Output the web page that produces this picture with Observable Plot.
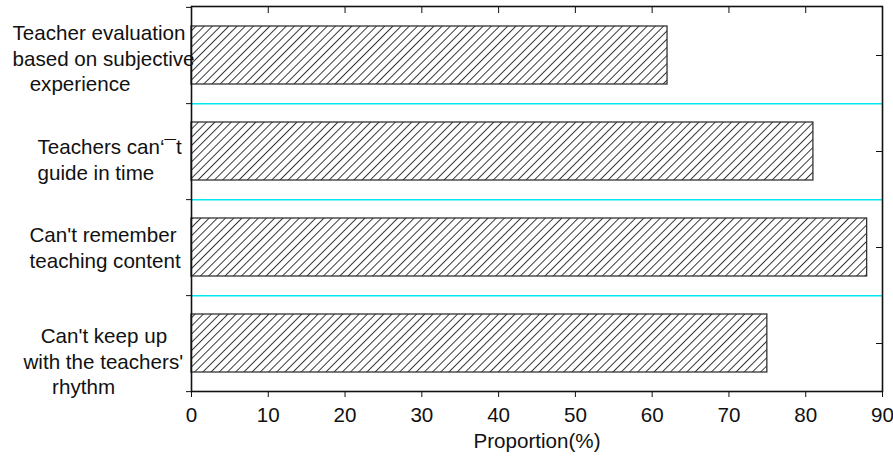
<!DOCTYPE html>
<html>
<head>
<meta charset="utf-8">
<script src="https://cdn.jsdelivr.net/npm/d3@7"></script>
<script src="https://cdn.jsdelivr.net/npm/@observablehq/plot@0.6"></script>
<style>
  html, body { margin: 0; padding: 0; background: #fff; }
  svg text { white-space: pre; }
</style>
</head>
<body>
<div id="chart"></div>
<script>
// ---- data ----
const categories = [
  "Teacher evaluation based on subjective experience",
  "Teachers can‘¯t guide in time",
  "Can't remember teaching content",
  "Can't keep up with the teachers' rhythm"
];
const values = [62, 81, 88, 75];
const categoryLabels = [
  "Teacher evaluation\nbased on subjective\n   experience",
  "Teachers can‘¯t\nguide in time",
  "Can't remember\nteaching content",
  "   Can't keep up\nwith the teachers'\n     rhythm"
];
const xTicks = [0, 10, 20, 30, 40, 50, 60, 70, 80, 90];
const xLabel = "Proportion(%)";

// ---- layout / style ----
const W = 893, H = 463;
const M = {top: 6, right: 11, bottom: 72, left: 191};
const labelLeft = [12, 37, 29, 23];
const labelNudge = [2, 7, -1, 17];
const step = (H - M.top - M.bottom) / categories.length;
const font = "'Liberation Sans', Arial, sans-serif";
const sepColor = "#00e8f2";

const rows = categories.map((c, i) => ({cat: c, value: values[i]}));

const labelMarks = categories.map((c, i) =>
  Plot.text([c], {
    y: d => d,
    text: () => categoryLabels[i],
    frameAnchor: "left",
    textAnchor: "start",
    dx: labelLeft[i] - M.left,
    dy: labelNudge[i],
    lineHeight: 1.25,
    fill: "#111"
  })
);

const svg = Plot.plot({
  width: W,
  height: H,
  marginTop: M.top,
  marginRight: M.right,
  marginBottom: M.bottom,
  marginLeft: M.left,
  style: {fontSize: "20.6px", fontFamily: font, color: "#111", background: "#fff"},
  x: {domain: [0, 90], ticks: xTicks},
  y: {domain: categories, paddingInner: 0.4, paddingOuter: 0.2},
  marks: [
    // separators between categories
    Plot.ruleY(categories.slice(0, -1), {y: d => d, dy: step / 2, stroke: sepColor, strokeWidth: 1.5}),
    // hatched bars
    Plot.barX(rows, {y: "cat", x: "value", fill: "url(#hatch)", stroke: "#333", strokeWidth: 1.3}),
    // bottom axis
    Plot.axisX({anchor: "bottom", ticks: xTicks, tickSize: 6, tickPadding: 10, label: null, stroke: "#111", fill: "#111"}),
    // top axis inward ticks
    Plot.axisX({anchor: "top", ticks: xTicks, tickSize: -6, tickFormat: () => "", label: null, stroke: "#111"}),
    // right axis inward ticks at category centers
    Plot.axisY({anchor: "right", ticks: categories, tickSize: -7, tickFormat: () => "", label: null, stroke: "#111"}),
    // left axis short outward ticks at band boundaries
    Plot.axisY({anchor: "left", ticks: categories, tickSize: 5, tickFormat: () => "", label: null, dy: step / 2, stroke: "#111"}),
    Plot.axisY({anchor: "left", ticks: categories.slice(0, 1), tickSize: 5, tickFormat: () => "", label: null, dy: -step / 2, stroke: "#111"}),
    ...labelMarks,
    Plot.text([xLabel], {frameAnchor: "bottom", text: d => d, dy: 56, fill: "#111"}),
    Plot.frame({stroke: "#111", strokeWidth: 1.6})
  ]
});

// hatch pattern definition
const defs = d3.select(svg).insert("defs", ":first-child");
const pat = defs.append("pattern")
  .attr("id", "hatch")
  .attr("patternUnits", "userSpaceOnUse")
  .attr("width", 5.8)
  .attr("height", 5.8)
  .attr("patternTransform", "rotate(45)");
pat.append("rect").attr("width", 5.8).attr("height", 5.8).attr("fill", "#fff");
pat.append("line")
  .attr("x1", 0.5).attr("y1", 0).attr("x2", 0.5).attr("y2", 5.8)
  .attr("stroke", "#222").attr("stroke-width", 0.9);

document.getElementById("chart").appendChild(svg);
</script>
</body>
</html>
